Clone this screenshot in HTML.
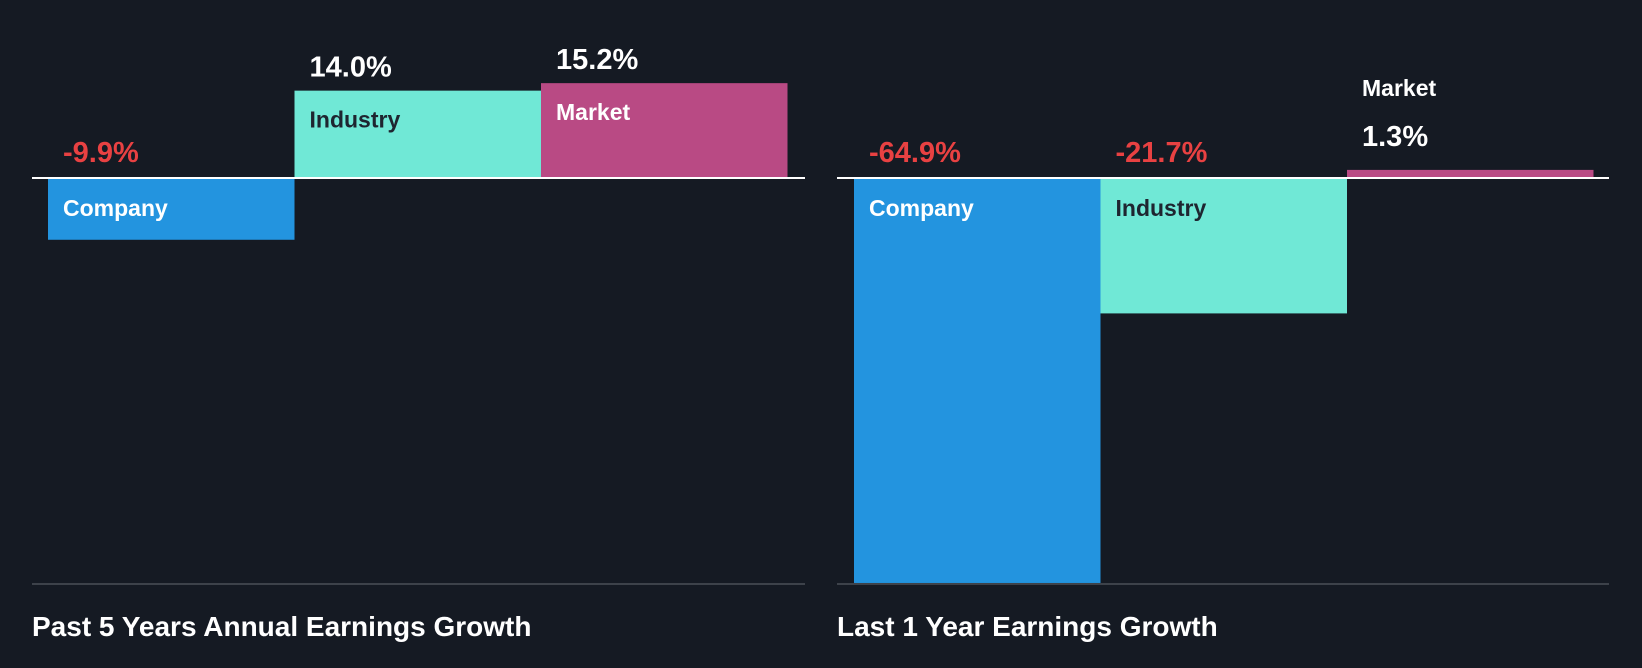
<!DOCTYPE html>
<html><head><meta charset="utf-8"><style>
html,body{margin:0;padding:0;background:#151a23;}
svg{display:block;font-family:"Liberation Sans",sans-serif;}
</style></head><body>
<svg id="c" width="1642" height="668" viewBox="0 0 1642 668">
<rect width="1642" height="668" fill="#151a23"/>
</svg>
<script>
const categories = ["Company","Industry","Market"];
const past5Values = [-9.9, 14.0, 15.2];
const last1Values = [-64.9, -21.7, 1.3];
const panelTitles = ["Past 5 Years Annual Earnings Growth","Last 1 Year Earnings Growth"];
const colors = ["#2394df","#70e8d6","#b94a84"];
const labelColors = ["#ffffff","#1e2530","#ffffff"];
const svg = document.getElementById('c');
const NS = "http://www.w3.org/2000/svg";
const baseY = 178, pxPer = 6.24;
function y(v){ return baseY - v*pxPer; }
function mk(tag, attrs, txt){
  const e = document.createElementNS(NS, tag);
  for (const k in attrs) e.setAttribute(k, attrs[k]);
  if (txt !== undefined) e.textContent = txt;
  svg.appendChild(e); return e;
}
const panels = [
  {vals: past5Values, axL: 32, axR: 805, barX: 48},
  {vals: last1Values, axL: 837, axR: 1609, barX: 854}
];
const bw = 246.5;
panels.forEach((p, pi) => {
  p.vals.forEach((v, i) => {
    const x = p.barX + i*bw;
    const top = Math.min(y(v), baseY), h = Math.abs(y(v) - baseY);
    const r = mk('rect', {x: x, y: top, width: bw, height: h, fill: colors[i]});
    
    
    const txt = (v > 0 ? '' : '') + v.toFixed(1) + '%';
    const neg = v < 0;
    let valY, catY, catFill = labelColors[i];
    if (neg) { valY = baseY - 16; catY = baseY + 38; }
    else if (h > 50) { valY = top - 14; catY = top + 37; }
    else { valY = top - 24; catY = top - 74; catFill = '#ffffff'; }
    const vt = mk('text', {x: x + 15, y: valY, fill: neg ? '#e84142' : '#ffffff', 'font-size': 29, 'font-weight': 'bold'}, txt);
    
    
    const ct = mk('text', {x: x + 15, y: catY, fill: catFill, 'font-size': 23, 'font-weight': 'bold'}, categories[i]);
    
    
  });
  const zl = mk('line', {x1: p.axL, x2: p.axR, y1: baseY, y2: baseY, stroke: '#ffffff', 'stroke-width': 2});
  
  
  const bl = mk('line', {x1: p.axL, x2: p.axR, y1: 584, y2: 584, stroke: '#3d424a', 'stroke-width': 2});
  
  
  const t = mk('text', {x: p.axL, y: 636, fill: '#ffffff', 'font-size': 28, 'font-weight': 'bold'}, panelTitles[pi]);
  
  
});
</script>
</body></html>
